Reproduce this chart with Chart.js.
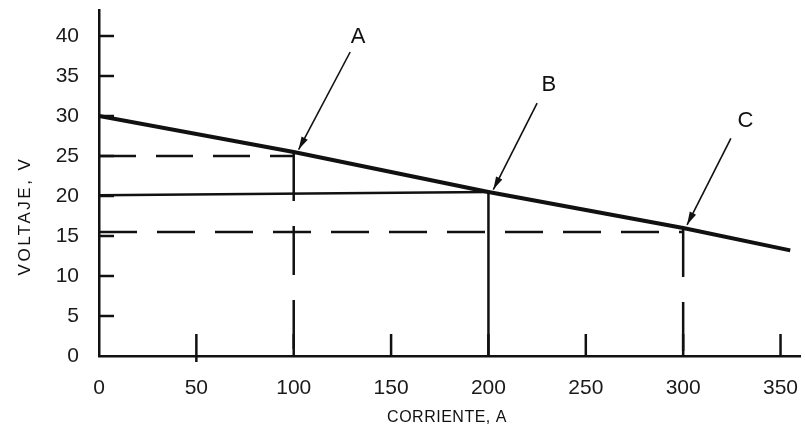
<!DOCTYPE html>
<html>
<head>
<meta charset="utf-8">
<script src="https://cdn.jsdelivr.net/npm/chart.js@4"></script>
<style>
  html, body { margin: 0; padding: 0; background: #fff; }
  #wrap { width: 805px; height: 440px; }
</style>
</head>
<body>
<div id="wrap"><canvas id="voltChart" width="805" height="440"></canvas></div>
<script>
// data
const mainX = [0, 100, 200, 300, 355];
const mainY = [30, 25.5, 20.5, 16, 13.2];

const levelA = 25;      // dashed level to A
const levelB = 20.1;    // solid level to B (slightly rising)
const levelBEnd = 20.5;
const levelC = 15.5;    // dashed level to C
const currentA = 100, currentB = 200, currentC = 300;
const topA = 25.5, topB = 20.5, topC = 16;

const xTicks = [0, 50, 100, 150, 200, 250, 300, 350];
const yTicks = [0, 5, 10, 15, 20, 25, 30, 35, 40];

// annotation arrows (data units)
const markLabels = ['A', 'B', 'C'];
const labelX = [133, 231, 332];
const labelY = [39.9, 33.9, 29.4];
const arrowFromX = [129, 225, 324.5];
const arrowFromY = [38, 31.6, 27.2];
const arrowToX = [102.5, 202.5, 302];
const arrowToY = [25.8, 20.8, 16.4];

const ink = '#111';
const fontFam = "'Liberation Sans', Arial, sans-serif";

function pts(xs, ys) { return xs.map((x, i) => ({ x: x, y: ys[i] })); }

const datasets = [
  { data: pts(mainX, mainY), borderWidth: 4 },
  { data: pts([0, currentA], [levelA, levelA]), borderWidth: 2.5, borderDash: [37, 20] },
  { data: pts([currentA, currentA], [topA, 0]), borderWidth: 2.5, borderDash: [49, 25] },
  { data: pts([0, currentB], [levelB, levelBEnd]), borderWidth: 2.5 },
  { data: pts([currentB, currentB], [topB, 0]), borderWidth: 2.5 },
  { data: pts([0, currentC], [levelC, levelC]), borderWidth: 2.5, borderDash: [38, 20] },
  { data: pts([currentC, currentC], [topC, 0]), borderWidth: 2.5, borderDash: [49, 25] }
];
markLabels.forEach((m, i) => {
  datasets.push({ data: pts([arrowFromX[i], arrowToX[i]], [arrowFromY[i], arrowToY[i]]), borderWidth: 1.6 });
});
datasets.forEach(d => {
  d.showLine = true;
  d.pointRadius = 0;
  d.borderColor = ink;
  d.fill = false;
});

// inner tick marks, arrowheads, letters and axis titles
const decor = {
  id: 'decor',
  afterDatasetsDraw(chart) {
    const { ctx, scales: { x, y } } = chart;
    const x0 = x.getPixelForValue(0), y0 = y.getPixelForValue(0);
    ctx.save();
    ctx.strokeStyle = ink;
    ctx.lineWidth = 2.5;
    yTicks.slice(1).forEach(v => {
      const py = y.getPixelForValue(v);
      ctx.beginPath(); ctx.moveTo(x0, py); ctx.lineTo(x0 + 15, py); ctx.stroke();
    });
    xTicks.slice(1).forEach(v => {
      const px = x.getPixelForValue(v);
      ctx.beginPath(); ctx.moveTo(px, y0 + (v === 50 ? 6 : 0)); ctx.lineTo(px, y0 - 22); ctx.stroke();
    });
    // arrowheads
    ctx.fillStyle = ink;
    markLabels.forEach((m, i) => {
      const fx = x.getPixelForValue(arrowFromX[i]), fy = y.getPixelForValue(arrowFromY[i]);
      const tx = x.getPixelForValue(arrowToX[i]), ty = y.getPixelForValue(arrowToY[i]);
      const a = Math.atan2(ty - fy, tx - fx);
      ctx.beginPath();
      ctx.moveTo(tx, ty);
      ctx.lineTo(tx - 13 * Math.cos(a) + 3.5 * Math.sin(a), ty - 13 * Math.sin(a) - 3.5 * Math.cos(a));
      ctx.lineTo(tx - 13 * Math.cos(a) - 3.5 * Math.sin(a), ty - 13 * Math.sin(a) + 3.5 * Math.cos(a));
      ctx.closePath();
      ctx.fill();
      ctx.font = '22px ' + fontFam;
      ctx.textAlign = 'center';
      ctx.textBaseline = 'middle';
      ctx.fillText(m, x.getPixelForValue(labelX[i]), y.getPixelForValue(labelY[i]));
    });
    // axis titles
    ctx.font = '16px ' + fontFam;
    ctx.letterSpacing = '0.5px';
    ctx.textAlign = 'center';
    ctx.textBaseline = 'middle';
    ctx.fillText('CORRIENTE, A', 447, 418);
    ctx.font = '17px ' + fontFam;
    ctx.letterSpacing = '2.5px';
    ctx.translate(25, 216);
    ctx.rotate(-Math.PI / 2);
    ctx.fillText('VOLTAJE, V', 0, 0);
    ctx.restore();
  }
};

new Chart(document.getElementById('voltChart').getContext('2d'), {
  type: 'scatter',
  data: { datasets: datasets },
  options: {
    responsive: false,
    animation: false,
    layout: { padding: { top: 10, right: 5, left: 0, bottom: 0 } },
    plugins: { legend: { display: false }, tooltip: { enabled: false } },
    scales: {
      x: {
        type: 'linear',
        min: 0,
        max: 360,
        grid: { display: false },
        border: { display: true, color: ink, width: 2.5 },
        ticks: {
          stepSize: 50,
          includeBounds: false,
          padding: 12,
          color: '#1a1a1a',
          font: { family: fontFam, size: 21 },
          maxRotation: 0
        },
        afterFit(scale) { scale.height = 84; scale.paddingLeft = 0; scale.paddingRight = 0; }
      },
      y: {
        min: 0,
        max: 43.25,
        grid: { display: false },
        border: { display: true, color: ink, width: 2.5 },
        ticks: {
          stepSize: 5,
          includeBounds: false,
          padding: 12,
          color: '#1a1a1a',
          font: { family: fontFam, size: 21 }
        },
        afterFit(scale) { scale.width = 99; scale.paddingTop = 0; scale.paddingBottom = 0; }
      }
    }
  },
  plugins: [decor]
});
</script>
</body>
</html>
